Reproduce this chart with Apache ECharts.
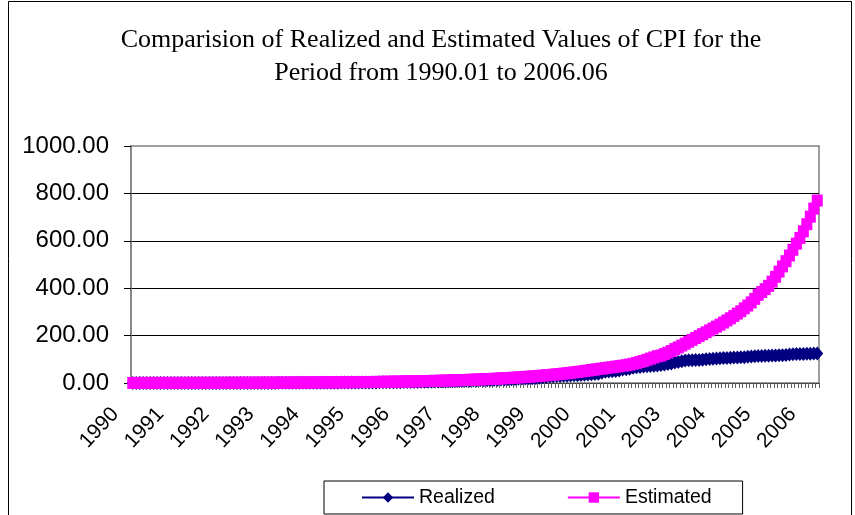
<!DOCTYPE html>
<html>
<head>
<meta charset="utf-8">
<script src="https://cdn.jsdelivr.net/npm/echarts@6/dist/echarts.min.js"></script>
<style>
  html, body { margin: 0; padding: 0; background: #fff; }
  #myChart { width: 855px; height: 515px; }
</style>
</head>
<body>
<div id="myChart"></div>
<script>
// monthly observations 1990.01 .. 2006.06
const startYear = 1990
const endYear = 2006
const lastMonth = 6
const labelStep = 13   // Excel shows every 13th category label

const realized = [
  0.09, 0.09, 0.10, 0.10, 0.11, 0.11, 0.12, 0.12, 0.13, 0.13, 0.14, 0.14,
  0.15, 0.16, 0.16, 0.17, 0.18, 0.18, 0.19, 0.20, 0.21, 0.22, 0.23, 0.24,
  0.25, 0.26, 0.27, 0.28, 0.29, 0.30, 0.31, 0.33, 0.34, 0.36, 0.38, 0.40,
  0.42, 0.44, 0.46, 0.48, 0.50, 0.52, 0.54, 0.56, 0.59, 0.62, 0.66, 0.69,
  0.73, 0.78, 0.84, 1.00, 1.10, 1.15, 1.18, 1.22, 1.28, 1.35, 1.43, 1.50,
  1.60, 1.70, 1.80, 1.88, 1.95, 2.00, 2.05, 2.10, 2.25, 2.45, 2.60, 2.75,
  2.90, 3.05, 3.20, 3.35, 3.50, 3.60, 3.70, 3.85, 4.05, 4.30, 4.55, 4.80,
  5.30, 5.60, 5.90, 6.20, 6.40, 6.60, 6.80, 7.10, 7.60, 8.10, 8.60, 9.00,
  9.50, 10.0, 10.5, 11.0, 11.4, 11.6, 11.9, 12.3, 13.0, 13.7, 14.3, 14.9,
  15.6, 16.3, 17.0, 17.8, 18.5, 19.2, 19.8, 20.5, 21.4, 22.6, 23.8, 25.2,
  27.2, 28.3, 29.2, 30.0, 30.5, 31.0, 31.6, 32.2, 33.0, 34.0, 35.0, 35.8,
  36.6, 37.5, 39.0, 43.5, 47.0, 48.5, 49.5, 50.5, 53.0, 56.5, 58.5, 60.0,
  64.0, 66.0, 68.0, 70.0, 71.0, 72.0, 73.0, 74.0, 76.0, 78.0, 80.0, 82.0,
  86.0, 89.0, 92.0, 94.5, 96.0, 96.5, 97.0, 97.5, 98.5, 100.0, 101.5, 102.5,
  103.0, 104.0, 105.0, 106.0, 107.0, 107.5, 107.8, 108.2, 109.0, 110.5, 112.0, 113.0,
  113.5, 114.0, 114.5, 115.5, 116.2, 116.5, 117.0, 117.3, 118.5, 120.5, 121.5, 122.0,
  122.5, 122.8, 123.0, 123.5, 124.0, 124.5
]

const estimated = [
  0.27, 0.28, 0.29, 0.30, 0.32, 0.33, 0.34, 0.36, 0.37, 0.39, 0.40, 0.42,
  0.44, 0.46, 0.47, 0.49, 0.51, 0.53, 0.56, 0.58, 0.60, 0.63, 0.65, 0.68,
  0.71, 0.74, 0.77, 0.80, 0.83, 0.87, 0.90, 0.94, 0.98, 1.02, 1.06, 1.10,
  1.15, 1.20, 1.24, 1.30, 1.35, 1.41, 1.46, 1.52, 1.59, 1.65, 1.72, 1.79,
  1.87, 1.94, 2.02, 2.11, 2.19, 2.28, 2.38, 2.48, 2.58, 2.68, 2.79, 2.91,
  3.03, 3.15, 3.28, 3.42, 3.56, 3.70, 3.86, 4.01, 4.18, 4.35, 4.53, 4.72,
  4.91, 5.11, 5.32, 5.54, 5.77, 6.00, 6.25, 6.50, 6.77, 7.05, 7.34, 7.64,
  7.95, 8.28, 8.62, 8.97, 9.34, 9.72, 10.1, 10.5, 11.0, 11.4, 11.9, 12.4,
  12.9, 13.4, 14.0, 14.5, 15.1, 15.8, 16.4, 17.1, 17.8, 18.5, 19.3, 20.1,
  20.9, 21.8, 22.7, 23.6, 24.5, 25.5, 26.6, 27.7, 28.8, 30.0, 31.2, 32.5,
  33.8, 35.2, 36.6, 38.1, 39.7, 41.3, 43.0, 44.8, 46.6, 48.5, 50.5, 52.6,
  55, 57, 59, 61, 63, 65, 67, 69, 71, 73, 75, 78,
  81, 85, 89, 93, 98, 103, 108, 113, 116, 122, 128, 135,
  143, 150, 158, 166, 174, 182, 190, 198, 206, 214, 222, 230,
  238, 246, 255, 264, 273, 283, 293, 303, 315, 327, 340, 355,
  372, 384, 396, 410, 428, 448, 470, 492, 514, 538, 562, 588,
  612, 640, 670, 702, 736, 770
]

const yTicks = [0, 200, 400, 600, 800, 1000]

// category per month, labelled "yyyy.mm"; the axis shows the year part
let categories = []
for (let y = startYear; y <= endYear; y++) {
  for (let m = 1; m <= 12; m++) {
    if (y === endYear && m > lastMonth) break
    categories.push(y + '.' + (m < 10 ? '0' + m : m))
  }
}

let myChart = echarts.init(document.getElementById('myChart'))
let option = {
  animation: false,
  backgroundColor: '#fff',
  color: ['#000080', '#FF00FF'],
  title: {
    text: 'Comparision of Realized and Estimated Values of CPI for the\nPeriod from 1990.01 to 2006.06',
    left: 436,
    top: 19,
    textAlign: 'center',
    textStyle: {
      fontFamily: 'Liberation Serif',
      fontWeight: 'normal',
      fontSize: 26,
      lineHeight: 33,
      color: '#000'
    }
  },
  graphic: [{
    type: 'rect',
    shape: { x: 8.5, y: 1.5, width: 843, height: 600 },
    style: { fill: 'none', stroke: '#000', lineWidth: 1 },
    silent: true
  }],
  legend: {
    data: ['Realized', 'Estimated'],
    left: 324,
    top: 481,
    padding: [6, 31, 6, 37],
    itemGap: 72,
    itemWidth: 52,
    itemHeight: 13,
    borderColor: '#000',
    borderWidth: 1,
    textStyle: {
      fontFamily: 'Liberation Sans',
      fontSize: 19.5,
      lineHeight: 21,
      color: '#000'
    }
  },
  grid: {
    left: 131,
    right: 36,
    top: 146,
    bottom: 132,
    show: true,
    borderColor: '#808080',
    borderWidth: 1.5,
    containLabel: false
  },
  xAxis: {
    type: 'category',
    data: categories,
    boundaryGap: true,
    axisLine: { lineStyle: { color: '#404040', width: 1 } },
    axisTick: { show: true, interval: 0, length: 5, lineStyle: { color: '#606060' } },
    axisLabel: {
      interval: labelStep - 1,
      rotate: 47,
      margin: 28,
      verticalAlign: 'bottom',
      fontFamily: 'Liberation Sans',
      fontSize: 21,
      lineHeight: 26,
      color: '#000',
      // two trailing no-break spaces pull the text back from the tick, as Excel does
      formatter: v => v.slice(0, 4) + '\u00a0\u00a0'
    },
    splitLine: { show: false }
  },
  yAxis: {
    type: 'value',
    min: yTicks[0],
    max: yTicks[yTicks.length - 1],
    interval: 200,
    axisLine: { show: true, lineStyle: { color: '#808080', width: 1.5 } },
    axisTick: { show: true, length: 7, lineStyle: { color: '#000' } },
    axisLabel: {
      margin: 22,
      fontFamily: 'Liberation Sans',
      fontSize: 24,
      color: '#000',
      formatter: v => v.toFixed(2)
    },
    splitLine: { show: true, showMinLine: false, showMaxLine: false, lineStyle: { color: '#000', width: 1 } }
  },
  series: [
    {
      name: 'Realized',
      type: 'line',
      data: realized,
      symbol: 'diamond',
      symbolSize: [12, 14],
      showAllSymbol: true,
      lineStyle: { width: 1, color: '#000080' },
      itemStyle: { color: '#000080' }
    },
    {
      name: 'Estimated',
      type: 'line',
      data: estimated,
      symbol: 'rect',
      symbolSize: [11, 12],
      showAllSymbol: true,
      lineStyle: { width: 1, color: '#FF00FF' },
      itemStyle: { color: '#FF00FF' }
    }
  ]
}
myChart.setOption(option)
</script>
</body>
</html>
